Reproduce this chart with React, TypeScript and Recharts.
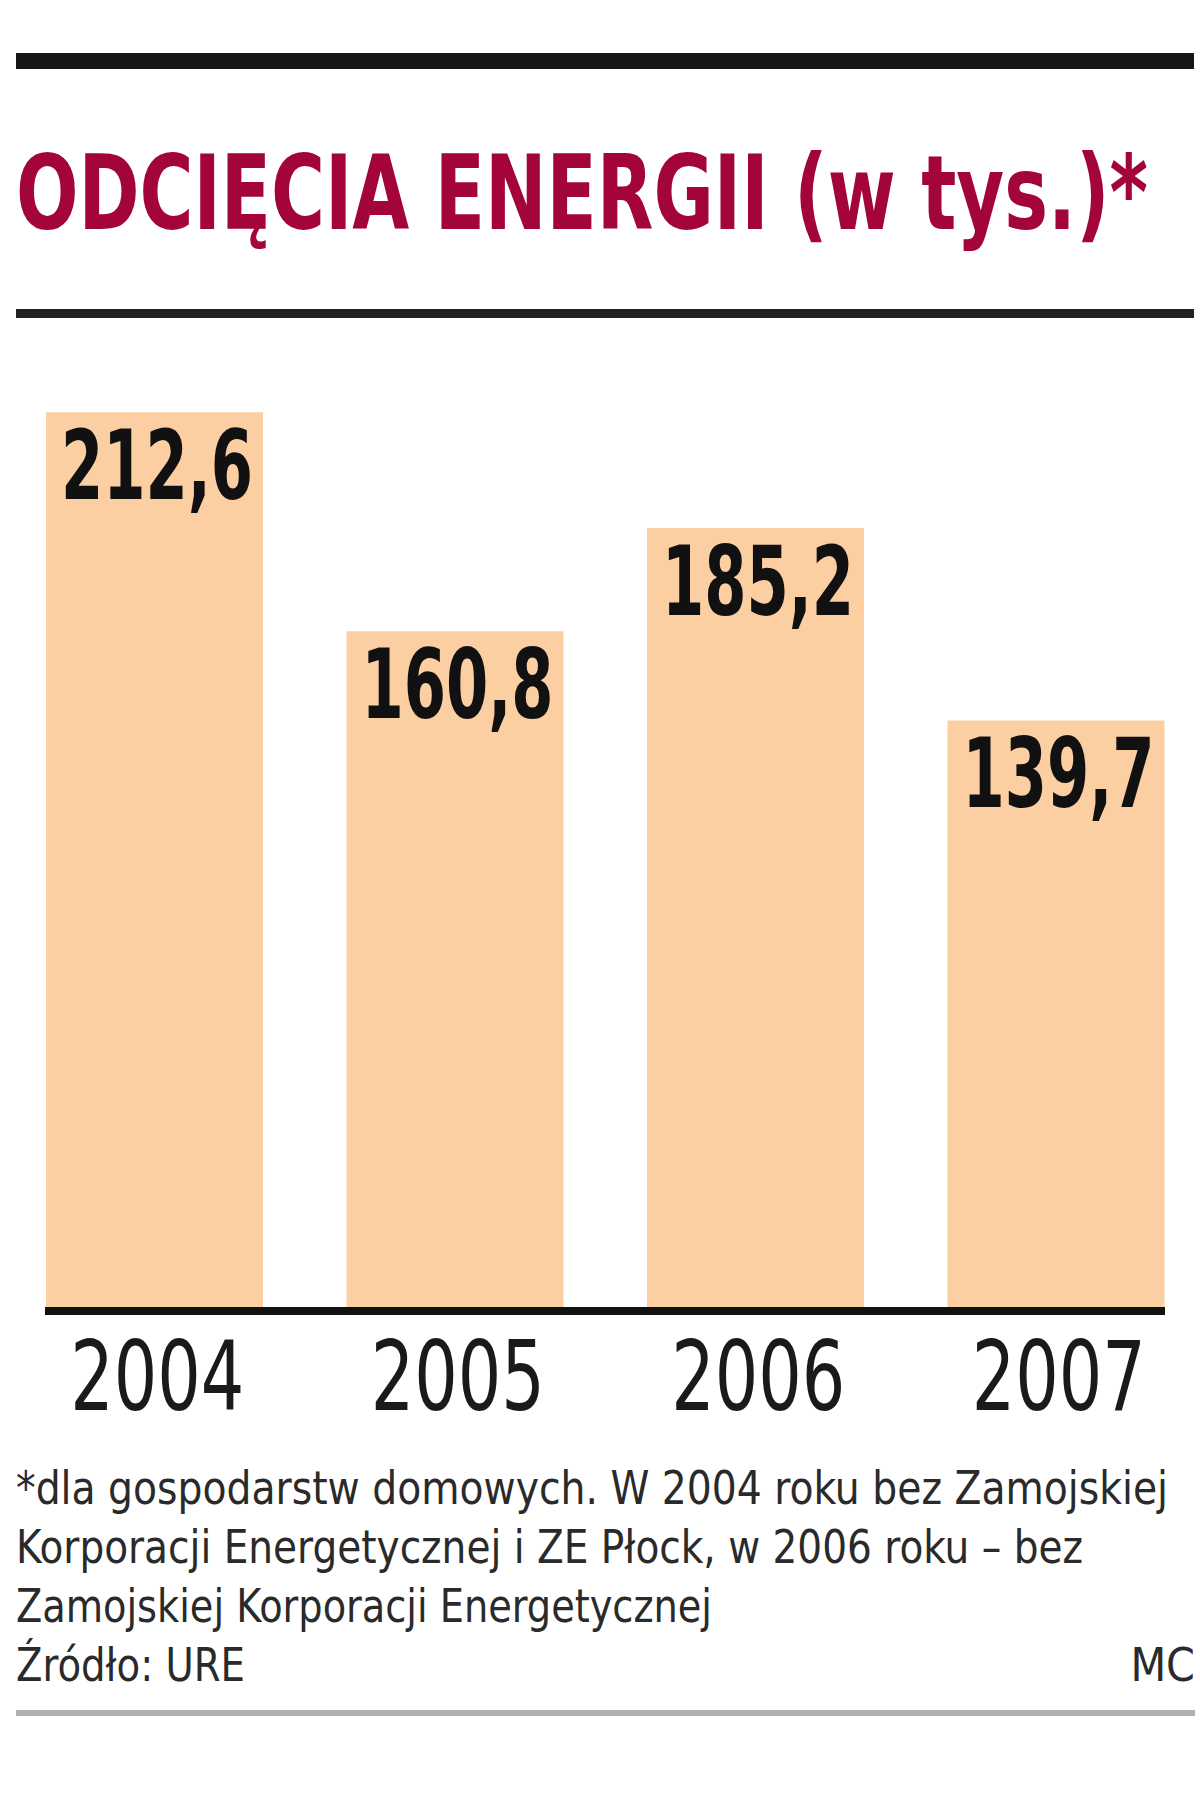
import { BarChart, Bar, XAxis, YAxis, LabelList } from "recharts";

const years = ["2004", "2005", "2006", "2007"];
const values = [212.6, 160.8, 185.2, 139.7];
const valueLabels = ["212,6", "160,8", "185,2", "139,7"];

const title = "ODCIĘCIA ENERGII (w tys.)*";
const notes = [
  "*dla gospodarstw domowych. W 2004 roku bez Zamojskiej",
  "Korporacji Energetycznej i ZE Płock, w 2006 roku – bez",
  "Zamojskiej Korporacji Energetycznej",
  "Źródło: URE",
];
const author = "MC";

const data = years.map((year, i) => ({
  year,
  value: values[i],
  label: valueLabels[i],
}));

const narrow =
  "'Liberation Sans Narrow', 'Arial Narrow', 'DejaVu Sans Condensed', Roboto, sans-serif";

// widths measured off the print, so fallback fonts still line up
const noteWidths = [1152, 1067, 696, 229];

const renderValue = (props: any) => {
  const { x, y, value } = props;
  return (
    <text
      x={Number(x) + 15}
      y={Number(y) + 87}
      fontSize={96}
      fontWeight={700}
      fontFamily={narrow}
      fill="#111"
      textLength={192}
      lengthAdjust="spacingAndGlyphs"
    >
      {value}
    </text>
  );
};

const YearTick = (props: any) => {
  const { x, y, payload } = props;
  return (
    <text
      x={Number(x) + 3}
      y={Number(y) + 99}
      textAnchor="middle"
      fontSize={96}
      fontFamily={narrow}
      fill="#1a1a1a"
      textLength={174}
      lengthAdjust="spacingAndGlyphs"
    >
      {payload.value}
    </text>
  );
};

export default function App() {
  return (
    <div
      style={{
        position: "absolute",
        top: 0,
        left: 0,
        width: 1200,
        height: 1800,
        background: "#fff",
        overflow: "hidden",
      }}
    >
      {/* header */}
      <svg
        width={1200}
        height={330}
        style={{ position: "absolute", top: 0, left: 0 }}
      >
        <rect x={16} y={53} width={1178} height={16} fill="#161616" />
        <text
          x={16}
          y={229}
          fontSize={104}
          fontWeight={700}
          fontFamily={narrow}
          fill="#a3043a"
          textLength={1132}
          lengthAdjust="spacingAndGlyphs"
        >
          {title}
        </text>
        <rect x={16} y={309} width={1178} height={9} fill="#222" />
      </svg>

      <div style={{ position: "absolute", top: 330, left: 0 }}>
        <BarChart
          width={1200}
          height={1120}
          data={data}
          margin={{ top: 51, right: 35, left: 45, bottom: 0 }}
        >
          <YAxis hide type="number" domain={[0, 220]} />
          <XAxis
            dataKey="year"
            height={139}
            padding={{ left: -41, right: -41 }}
            axisLine={{ stroke: "#111", strokeWidth: 8 }}
            tickLine={false}
            tickSize={0}
            tickMargin={0}
            tick={<YearTick />}
            interval={0}
          />
          <Bar dataKey="value" fill="#fccfa3" barSize={217} isAnimationActive={false}>
            <LabelList dataKey="label" content={renderValue} />
          </Bar>
        </BarChart>
      </div>

      {/* footnote */}
      <svg
        width={1200}
        height={350}
        style={{ position: "absolute", top: 1450, left: 0 }}
      >
        {notes.map((line, i) => (
          <text
            key={i}
            x={16}
            y={54 + i * 59}
            fontSize={46}
            fontFamily={narrow}
            fill="#2a2a2a"
            textLength={noteWidths[i]}
            lengthAdjust="spacingAndGlyphs"
          >
            {line}
          </text>
        ))}
        <text
          x={1195}
          y={231}
          textAnchor="end"
          fontSize={46}
          fontFamily={narrow}
          fill="#2a2a2a"
        >
          {author}
        </text>
        <rect x={16} y={260} width={1179} height={6} fill="#b0b0b0" />
      </svg>
    </div>
  );
}
